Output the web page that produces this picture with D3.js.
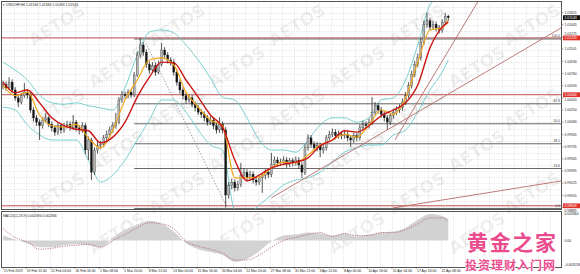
<!DOCTYPE html>
<html>
<head>
<meta charset="utf-8">
<script src="https://cdn.jsdelivr.net/npm/d3@7"></script>
<style>
  body { margin: 0; background: #fff; }
  svg { display: block; font-family: "Liberation Sans", Arial, sans-serif; }
</style>
</head>
<body>
<div id="container"></div>
<script>
// USDCHF H4, one candle per two bars, prices
var opens = [1.0058, 1.0061, 1.0056, 1.0064, 1.0053, 1.0042, 1.0036, 1.0045, 1.0050, 1.0046,
  1.0025, 1.0014, 1.0008, 1.0003, 1.0011, 1.0014, 1.0005, 1.0000, 0.9994, 1.0003,
  0.9997, 1.0003, 1.0005, 1.0000, 1.0008, 1.0000, 0.9997, 1.0003, 0.9969, 0.9983,
  0.9938, 0.9969, 0.9975, 0.9977, 0.9986, 0.9991, 0.9997, 1.0003, 1.0008, 1.0039,
  1.0047, 1.0045, 1.0050, 1.0046, 1.0074, 1.0102, 1.0116, 1.0106, 1.0089, 1.0081,
  1.0087, 1.0078, 1.0089, 1.0109, 1.0102, 1.0095, 1.0092, 1.0078, 1.0064, 1.0053,
  1.0045, 1.0039, 1.0042, 1.0033, 1.0028, 1.0022, 1.0019, 1.0014, 1.0008, 1.0011,
  1.0003, 0.9997, 1.0005, 0.9997, 0.9906, 0.9919, 0.9924, 0.9916, 0.9921, 0.9933,
  0.9938, 0.9930, 0.9935, 0.9927, 0.9924, 0.9930, 0.9933, 0.9938, 0.9935, 0.9949,
  0.9955, 0.9951, 0.9952, 0.9955, 0.9949, 0.9954, 0.9951, 0.9955, 0.9948, 0.9938,
  0.9972, 0.9986, 0.9977, 0.9972, 0.9975, 0.9969, 0.9972, 0.9986, 0.9991, 0.9994,
  0.9989, 0.9991, 0.9989, 0.9991, 0.9986, 0.9983, 0.9989, 0.9986, 1.0000, 1.0005,
  1.0003, 1.0008, 1.0022, 1.0031, 1.0025, 1.0019, 1.0014, 1.0008, 1.0017, 1.0022,
  1.0025, 1.0028, 1.0036, 1.0045, 1.0059, 1.0075, 1.0089, 1.0098, 1.0120, 1.0145,
  1.0150, 1.0141, 1.0145, 1.0140, 1.0137, 1.0148, 1.01564];
var highs = [1.0066, 1.0065, 1.0071, 1.0068, 1.0057, 1.0046, 1.0049, 1.0063, 1.0054, 1.0049,
  1.0029, 1.0018, 1.0012, 1.0015, 1.0021, 1.0017, 1.0009, 1.0004, 1.0007, 1.0006,
  1.0007, 1.0010, 1.0009, 1.0018, 1.0011, 1.0004, 1.0008, 1.0007, 0.9988, 0.9986,
  0.9973, 0.9980, 0.9982, 0.9990, 0.9996, 1.0002, 1.0008, 1.0021, 1.0043, 1.0052,
  1.0051, 1.0054, 1.0053, 1.0078, 1.0107, 1.0126, 1.0120, 1.0110, 1.0093, 1.0092,
  1.0091, 1.0094, 1.0119, 1.0113, 1.0106, 1.0099, 1.0096, 1.0082, 1.0068, 1.0057,
  1.0049, 1.0047, 1.0046, 1.0037, 1.0032, 1.0026, 1.0023, 1.0018, 1.0016, 1.0015,
  1.0007, 1.0015, 1.0009, 1.0001, 0.9924, 0.9929, 0.9928, 0.9926, 0.9951, 0.9943,
  0.9942, 0.9940, 0.9939, 0.9931, 0.9934, 0.9937, 0.9942, 0.9942, 0.9965, 0.9960,
  0.9959, 0.9957, 0.9960, 0.9959, 0.9958, 0.9958, 0.9960, 0.9959, 0.9952, 0.9977,
  0.9991, 0.9990, 0.9981, 0.9980, 0.9979, 0.9977, 0.9990, 0.9996, 0.9999, 0.9998,
  0.9996, 0.9995, 0.9996, 0.9995, 0.9990, 0.9993, 0.9993, 1.0005, 1.0010, 1.0009,
  1.0013, 1.0043, 1.0036, 1.0035, 1.0029, 1.0023, 1.0018, 1.0021, 1.0027, 1.0030,
  1.0033, 1.0041, 1.0050, 1.0064, 1.0080, 1.0094, 1.0104, 1.0126, 1.0150, 1.0161,
  1.0154, 1.0150, 1.0149, 1.0144, 1.0152, 1.0161, 1.01584];
var lows = [1.0054, 1.0052, 1.0053, 1.0049, 1.0038, 1.0029, 1.0033, 1.0042, 1.0041, 1.0021,
  1.0009, 1.0003, 0.9983, 0.9999, 1.0007, 1.0001, 0.9995, 0.9989, 0.9990, 0.9992,
  0.9993, 0.9999, 0.9996, 0.9997, 0.9995, 0.9991, 0.9993, 0.9963, 0.9955, 0.9927,
  0.9934, 0.9964, 0.9970, 0.9973, 0.9982, 0.9987, 0.9993, 0.9999, 1.0005, 1.0035,
  1.0041, 1.0041, 1.0042, 1.0043, 1.0071, 1.0098, 1.0101, 1.0084, 1.0076, 1.0077,
  1.0073, 1.0075, 1.0086, 1.0097, 1.0090, 1.0087, 1.0073, 1.0059, 1.0048, 1.0040,
  1.0034, 1.0035, 1.0029, 1.0023, 1.0018, 1.0014, 1.0009, 1.0003, 1.0004, 0.9998,
  0.9992, 0.9993, 0.9992, 0.98885, 0.9901, 0.9914, 0.9911, 0.9912, 0.9917, 0.9929,
  0.9925, 0.9926, 0.9922, 0.9919, 0.9920, 0.9909, 0.9928, 0.9930, 0.9931, 0.9945,
  0.9946, 0.9947, 0.9948, 0.9944, 0.9945, 0.9946, 0.9947, 0.9943, 0.9930, 0.9934,
  0.9968, 0.9972, 0.9967, 0.9967, 0.9959, 0.9964, 0.9968, 0.9982, 0.9987, 0.9984,
  0.9985, 0.9984, 0.9985, 0.9981, 0.9973, 0.9979, 0.9981, 0.9982, 0.9996, 0.9998,
  0.9999, 1.0004, 1.0018, 1.0020, 1.0014, 1.0009, 0.9997, 1.0004, 1.0013, 1.0018,
  1.0021, 1.0024, 1.0032, 1.0041, 1.0055, 1.0071, 1.0085, 1.0094, 1.0116, 1.0140,
  1.0136, 1.0137, 1.0135, 1.0132, 1.0133, 1.0144, 1.01494];
var closes = [1.0061, 1.0056, 1.0064, 1.0053, 1.0042, 1.0036, 1.0045, 1.0050, 1.0046, 1.0025,
  1.0014, 1.0008, 1.0003, 1.0011, 1.0014, 1.0005, 1.0000, 0.9994, 1.0003, 0.9997,
  1.0003, 1.0005, 1.0000, 1.0008, 1.0000, 0.9997, 1.0003, 0.9969, 0.9983, 0.9938,
  0.9969, 0.9975, 0.9977, 0.9986, 0.9991, 0.9997, 1.0003, 1.0008, 1.0039, 1.0047,
  1.0045, 1.0050, 1.0046, 1.0074, 1.0102, 1.0116, 1.0106, 1.0089, 1.0081, 1.0087,
  1.0078, 1.0089, 1.0109, 1.0102, 1.0095, 1.0092, 1.0078, 1.0064, 1.0053, 1.0045,
  1.0039, 1.0042, 1.0033, 1.0028, 1.0022, 1.0019, 1.0014, 1.0008, 1.0011, 1.0003,
  0.9997, 1.0005, 0.9997, 0.9906, 0.9919, 0.9924, 0.9916, 0.9921, 0.9933, 0.9938,
  0.9930, 0.9935, 0.9927, 0.9924, 0.9930, 0.9933, 0.9938, 0.9935, 0.9949, 0.9955,
  0.9951, 0.9952, 0.9955, 0.9949, 0.9954, 0.9951, 0.9955, 0.9948, 0.9938, 0.9972,
  0.9986, 0.9977, 0.9972, 0.9975, 0.9969, 0.9972, 0.9986, 0.9991, 0.9994, 0.9989,
  0.9991, 0.9989, 0.9991, 0.9986, 0.9983, 0.9989, 0.9986, 1.0000, 1.0005, 1.0003,
  1.0008, 1.0022, 1.0031, 1.0025, 1.0019, 1.0014, 1.0008, 1.0017, 1.0022, 1.0025,
  1.0028, 1.0036, 1.0045, 1.0059, 1.0075, 1.0089, 1.0098, 1.0120, 1.0145, 1.0150,
  1.0141, 1.0145, 1.0140, 1.0137, 1.0148, 1.0156, 1.01543];

// indicators, read every 4th candle
var sampleIdx = [0, 4, 8, 12, 16, 20, 24, 28, 32, 36, 40, 44, 48, 52, 56, 60, 64, 68, 72,
  76, 80, 84, 88, 92, 96, 100, 104, 108, 112, 116, 120, 124, 128, 132, 136, 140, 144, 146];
var bbUpper = [1.0092, 1.0081, 1.0067, 1.0046, 1.0035, 1.0033, 1.0035, 1.0031, 1.0028, 1.0025,
  1.0056, 1.0102, 1.0134, 1.0137, 1.0133, 1.0116, 1.0095, 1.0070, 1.0043, 1.0039,
  1.0014, 0.9983, 0.9969, 0.9969, 0.9966, 0.9983, 1.0004, 1.0014, 1.0014, 1.0008,
  1.0014, 1.0039, 1.0042, 1.0067, 1.0116, 1.0172, 1.0186, 1.0190];
var bbLower = [1.0029, 1.0025, 1.0004, 0.9990, 0.9983, 0.9983, 0.9983, 0.9955, 0.9924, 0.9934,
  0.9955, 0.9983, 1.0011, 1.0039, 1.0039, 1.0022, 0.9997, 0.9976, 0.9969, 0.9885,
  0.9878, 0.9892, 0.9906, 0.9920, 0.9927, 0.9930, 0.9938, 0.9952, 0.9966, 0.9972,
  0.9976, 0.9976, 0.9990, 0.9997, 1.0022, 1.0053, 1.0078, 1.0095];
var maRed = [1.0064, 1.0049, 1.0053, 1.0035, 1.0014, 1.0003, 0.9998, 0.9996, 0.9979, 0.9987,
  1.0008, 1.0043, 1.0071, 1.0092, 1.0091, 1.0067, 1.0043, 1.0018, 1.0001, 0.9955,
  0.9926, 0.9934, 0.9944, 0.9949, 0.9952, 0.9958, 0.9975, 0.9983, 0.9996, 0.9994,
  1.0003, 1.0017, 1.0025, 1.0035, 1.0060, 1.0112, 1.0141, 1.0148];
var maYellow = [1.0059, 1.0045, 1.0050, 1.0018, 1.0003, 1.0001, 1.0005, 0.9986, 0.9972, 0.9997,
  1.0039, 1.0067, 1.0095, 1.0098, 1.0088, 1.0050, 1.0029, 1.0011, 1.0003, 0.9930,
  0.9930, 0.9931, 0.9944, 0.9952, 0.9951, 0.9962, 0.9976, 0.9983, 0.9991, 0.9987,
  1.0004, 1.0025, 1.0019, 1.0042, 1.0092, 1.0137, 1.0140, 1.0151];
var macdHist = [0.00056, 0.00011, -0.00034, -0.00078, -0.00078, -0.00056, -0.00045, -0.00056, -0.00078, 0.00034,
  0.00123, 0.00179, 0.00224, 0.00190, 0.00101, -0.00034, -0.00101, -0.00134, -0.00168, -0.00246,
  -0.00213, -0.00123, -0.00011, 0.00056, 0.00067, 0.00090, 0.00078, 0.00056, 0.00078, 0.00045,
  0.00067, 0.00090, 0.00101, 0.00146, 0.00235, 0.00302, 0.00280, 0.00246];
var macdSignal = [0.00134, 0.00034, -0.00022, -0.00101, -0.00090, -0.00067, -0.00056, -0.00045, -0.00078, 0.00000,
  0.00067, 0.00146, 0.00202, 0.00190, 0.00134, -0.00011, -0.00067, -0.00101, -0.00146, -0.00224,
  -0.00224, -0.00168, -0.00078, 0.00000, 0.00034, 0.00067, 0.00090, 0.00045, 0.00078, 0.00056,
  0.00056, 0.00090, 0.00090, 0.00123, 0.00190, 0.00258, 0.00258, 0.00213];

// axis labels
var timeLabels = ["15 Feb 2019", "19 Feb 12:00", "22 Feb 04:00", "26 Feb 16:00", "1 Mar 08:00",
  "5 Mar 20:00", "8 Mar 12:00", "13 Mar 00:00", "15 Mar 16:00", "20 Mar 04:00", "22 Mar 20:00",
  "27 Mar 08:00", "31 Mar 21:00", "3 Apr 12:00", "8 Apr 00:00", "10 Apr 16:00", "15 Apr 04:00",
  "17 Apr 20:00", "22 Apr 08:00"];
var timeLabelBars = [0, 15, 31, 47, 63, 79, 95, 111, 127, 143, 159, 175, 191, 207, 223, 239, 255, 271, 287];
var priceTicks = [1.01615, 1.01445, 1.01275, 1.01105, 1.00930, 1.00760, 1.00590, 1.00420, 1.00250,
  1.00080, 0.99905, 0.99735, 0.99565, 0.99395, 0.99225, 0.99055, 0.98885];
var macdTicks = [0.003364, 0, -0.003158];
var macdTickText = ["0.003364", "0.00", "-0.003158"];

// drawn objects
var srLevels = [1.01259, 1.00464, 0.98909];
var fibPrices = [0.98885, 0.99445, 0.99792, 1.00072, 1.00352, 1.01259];
var fibNames = ["0.0", "23.6", "38.2", "50.0", "61.8", "100.0"];
var fibStartBar = 86;
var fibAnchors = [[92, 1.01259], [147, 0.98885]];
var trendLines = [
  [[176, 0.9902], [366, 1.0140]],
  [[257, 0.9983], [312, 1.0179]],
  [[256, 0.9888], [367, 0.9926]]
];
var lastPrice = 1.01543;

function drawChart() {
  var W = 580, H = 274;
  var plotL = 1, plotR = 562, mainTop = 1, mainBot = 209, macdTop = 211, macdBot = 267;
  var fs = 3.4;

  var x = d3.scaleLinear().domain([0, 292]).range([3, 448.3]);
  var y = d3.scaleLinear().domain([0.98864, 1.01762]).range([mainBot, 2]);
  var ym = d3.scaleLinear().domain([-0.003158, 0.003364]).range([268, macdTop]);

  var svg = d3.select("#container").append("svg")
      .attr("width", W)
      .attr("height", H);
  svg.append("rect").attr("width", W).attr("height", H).attr("fill", "#fff");

  var defs = svg.append("defs");
  defs.append("clipPath").attr("id", "clipMain").append("rect")
      .attr("x", plotL).attr("y", mainTop).attr("width", plotR - plotL).attr("height", mainBot - mainTop);
  defs.append("clipPath").attr("id", "clipMacd").append("rect")
      .attr("x", plotL).attr("y", macdTop).attr("width", plotR - plotL).attr("height", macdBot - macdTop);

  // grid
  var grid = svg.append("g").attr("stroke", "#dcdcdc").attr("stroke-width", 0.6)
      .attr("stroke-dasharray", "1.5,1");
  var vBars = d3.range(7, 380, 8).filter(function(b) { return x(b) < plotR - 1; });
  grid.selectAll(".vg").data(vBars).enter().append("line")
      .attr("x1", function(b) { return Math.round(x(b)) + 0.5; })
      .attr("x2", function(b) { return Math.round(x(b)) + 0.5; })
      .attr("y1", mainTop).attr("y2", mainBot);
  grid.selectAll(".vg2").data(vBars).enter().append("line")
      .attr("x1", function(b) { return Math.round(x(b)) + 0.5; })
      .attr("x2", function(b) { return Math.round(x(b)) + 0.5; })
      .attr("y1", macdTop).attr("y2", macdBot);
  var hVals = d3.range(0, 35).map(function(k) { return 0.98885 + k * 0.00085; })
      .filter(function(v) { return y(v) > mainTop + 1; });
  grid.selectAll(".hg").data(hVals).enter().append("line")
      .attr("x1", plotL).attr("x2", plotR)
      .attr("y1", function(v) { return Math.round(y(v)) + 0.5; })
      .attr("y2", function(v) { return Math.round(y(v)) + 0.5; });

  // broker watermark, kept inside the picture
  var wm = svg.append("g").attr("fill", "#000").attr("fill-opacity", 0.065)
      .attr("font-size", 17).attr("font-weight", "bold").attr("font-family", "DejaVu Sans");
  var wmRows = [24, 66, 108, 150, 192, 232];
  wmRows.forEach(function(cy, r) {
    var cols = r % 2 ? [120, 240, 360, 480] : [60, 180, 300, 420, 535];
    cols.forEach(function(cx) {
      wm.append("text").attr("text-anchor", "middle")
        .attr("transform", "translate(" + cx + "," + (cy + 6) + ") rotate(-32)")
        .text("AETOS");
    });
  });

  var main = svg.append("g").attr("clip-path", "url(#clipMain)");

  // support / resistance lines
  main.selectAll(".sr").data(srLevels).enter().append("line")
      .attr("x1", plotL).attr("x2", plotR)
      .attr("y1", function(d) { return y(d); }).attr("y2", function(d) { return y(d); })
      .attr("stroke", "#c0504d").attr("stroke-width", 1);

  // fibonacci levels
  main.selectAll(".fib").data(fibPrices).enter().append("line")
      .attr("x1", x(fibStartBar)).attr("x2", plotR)
      .attr("y1", function(d) { return y(d) + 1; }).attr("y2", function(d) { return y(d) + 1; })
      .attr("stroke", "#6a6a6a").attr("stroke-width", 1.1);
  main.selectAll(".fibt").data(fibPrices).enter().append("text")
      .attr("x", plotR - 2).attr("y", function(d) { return y(d) - 0.5; })
      .attr("text-anchor", "end").attr("font-size", fs).attr("fill", "#444")
      .text(function(d, i) { return fibNames[i]; });
  main.append("line")
      .attr("x1", x(fibAnchors[0][0])).attr("y1", y(fibAnchors[0][1]))
      .attr("x2", x(fibAnchors[1][0])).attr("y2", y(fibAnchors[1][1]))
      .attr("stroke", "#888").attr("stroke-width", 0.8).attr("stroke-dasharray", "1.5,1.5");

  // bollinger bands and moving averages
  var line = function(vals) {
    return d3.line()
      .x(function(d, i) { return x(sampleIdx[i] * 2); })
      .y(function(d) { return y(d); })
      .curve(d3.curveMonotoneX)(vals);
  };
  main.append("path").attr("d", line(bbUpper)).attr("fill", "none").attr("stroke", "#6cc9c9").attr("stroke-width", 0.9);
  main.append("path").attr("d", line(bbLower)).attr("fill", "none").attr("stroke", "#6cc9c9").attr("stroke-width", 0.9);

  // candles
  var cg = main.append("g");
  var idx = d3.range(closes.length);
  cg.selectAll(".wick").data(idx).enter().append("line")
      .attr("x1", function(i) { return x(i * 2); }).attr("x2", function(i) { return x(i * 2); })
      .attr("y1", function(i) { return y(highs[i]); }).attr("y2", function(i) { return y(lows[i]); })
      .attr("stroke", "#2a2a2a").attr("stroke-width", 0.8);
  cg.selectAll(".body").data(idx).enter().append("rect")
      .attr("x", function(i) { return x(i * 2) - 1; })
      .attr("width", 2)
      .attr("y", function(i) { return y(Math.max(opens[i], closes[i])); })
      .attr("height", function(i) { return Math.max(0.8, Math.abs(y(opens[i]) - y(closes[i]))); })
      .attr("fill", function(i) { return closes[i] >= opens[i] ? "#b4b4b4" : "#111"; })
      .attr("stroke", "#222").attr("stroke-width", 0.3);

  main.append("path").attr("d", line(maYellow)).attr("fill", "none").attr("stroke", "#f2a81d").attr("stroke-width", 1.2);
  main.append("path").attr("d", line(maRed)).attr("fill", "none").attr("stroke", "#cc1414").attr("stroke-width", 1.4);

  // trend lines
  main.selectAll(".tl").data(trendLines).enter().append("line")
      .attr("x1", function(d) { return x(d[0][0]); }).attr("y1", function(d) { return y(d[0][1]); })
      .attr("x2", function(d) { return x(d[1][0]); }).attr("y2", function(d) { return y(d[1][1]); })
      .attr("stroke", "#b86a6a").attr("stroke-width", 0.9);

  // MACD panel
  var mg = svg.append("g").attr("clip-path", "url(#clipMacd)");
  mg.append("path")
      .attr("d", d3.area()
        .x(function(d, i) { return x(sampleIdx[i] * 2); })
        .y0(ym(0))
        .y1(function(d) { return ym(d); })
        .curve(d3.curveMonotoneX)(macdHist))
      .attr("fill", "#d2d2d2");
  mg.append("path")
      .attr("d", d3.line()
        .x(function(d, i) { return x(sampleIdx[i] * 2); })
        .y(function(d) { return ym(d); })
        .curve(d3.curveMonotoneX)(macdSignal))
      .attr("fill", "none").attr("stroke", "#b15f5f").attr("stroke-width", 0.8)
      .attr("stroke-dasharray", "1.2,1.2");

  // panel frames
  svg.append("rect").attr("x", plotL + 0.5).attr("y", mainTop + 0.5)
      .attr("width", plotR - plotL - 1).attr("height", mainBot - mainTop)
      .attr("fill", "none").attr("stroke", "#555").attr("stroke-width", 1);
  svg.append("rect").attr("x", plotL + 0.5).attr("y", macdTop + 0.5)
      .attr("width", plotR - plotL - 1).attr("height", macdBot - macdTop)
      .attr("fill", "none").attr("stroke", "#555").attr("stroke-width", 1);

  // price scale; labels next to a marker box are pushed clear of it
  var boxes = srLevels.map(function(v) { return {v: v, c: "#e0312b"}; })
      .concat([{v: lastPrice, c: "#111"}]);
  var labelY = function(d) {
    var py = y(d);
    boxes.forEach(function(b) {
      var by = y(b.v);
      if (Math.abs(py - by) < 4.6) py = py < by ? by - 4.6 : by + 4.6;
    });
    return py;
  };
  var ax = svg.append("g").attr("font-size", fs).attr("fill", "#222");
  ax.selectAll(".pt").data(priceTicks).enter().append("text")
      .attr("x", plotR + 2.5).attr("y", function(d) { return labelY(d) + 1.2; })
      .text(function(d) { return d.toFixed(5); });
  ax.selectAll(".ptk").data(priceTicks).enter().append("line")
      .attr("x1", plotR).attr("x2", plotR + 1.5)
      .attr("y1", function(d) { return y(d); }).attr("y2", function(d) { return y(d); })
      .attr("stroke", "#555").attr("stroke-width", 0.5);
  ax.selectAll(".pb").data(boxes).enter().append("rect")
      .attr("x", plotR + 1).attr("y", function(d) { return y(d.v) - 2.4; })
      .attr("width", 17).attr("height", 4.8).attr("fill", function(d) { return d.c; });
  ax.selectAll(".pbt").data(boxes).enter().append("text")
      .attr("x", plotR + 2.5).attr("y", function(d) { return y(d.v) + 1.2; })
      .attr("fill", "#fff").text(function(d) { return d.v.toFixed(5); });

  ax.selectAll(".mt").data(macdTicks).enter().append("text")
      .attr("x", plotR + 2.5)
      .attr("y", function(d, i) { return i === 0 ? 215 : (i === 2 ? macdBot - 1.5 : ym(d) + 1.2); })
      .text(function(d, i) { return macdTickText[i]; });

  // time scale
  ax.selectAll(".tt").data(timeLabelBars).enter().append("text")
      .attr("x", function(b) { return x(b) + 0.8; }).attr("y", 272)
      .text(function(b, i) { return timeLabels[i]; });
  ax.selectAll(".ttk").data(timeLabelBars).enter().append("line")
      .attr("x1", function(b) { return x(b); }).attr("x2", function(b) { return x(b); })
      .attr("y1", macdBot).attr("y2", macdBot + 2)
      .attr("stroke", "#555").attr("stroke-width", 0.5);

  // headers
  svg.append("text").attr("x", 3).attr("y", 6).attr("font-size", fs).attr("fill", "#222")
      .text("\u25BE USDCHF,H4  1.01564 1.01584 1.01494 1.01543");
  svg.append("text").attr("x", 3).attr("y", 216.5).attr("font-size", fs).attr("fill", "#222")
      .text("MACD(12,26,9) 0.002094 0.002306");

  // site stamp
  var stamp = svg.append("g").attr("font-family", "Noto Sans CJK SC").attr("font-weight", "bold")
      .attr("fill", "#ea4b8e").attr("stroke", "#fff").attr("stroke-width", 1.2)
      .attr("paint-order", "stroke");
  stamp.append("text").attr("x", 467).attr("y", 250).attr("font-size", 21)
      .attr("textLength", 89).text("黄金之家");
  stamp.append("text").attr("x", 465).attr("y", 270).attr("font-size", 12)
      .attr("textLength", 90).text("投资理财入门网");
}

drawChart();
</script>
</body>
</html>
